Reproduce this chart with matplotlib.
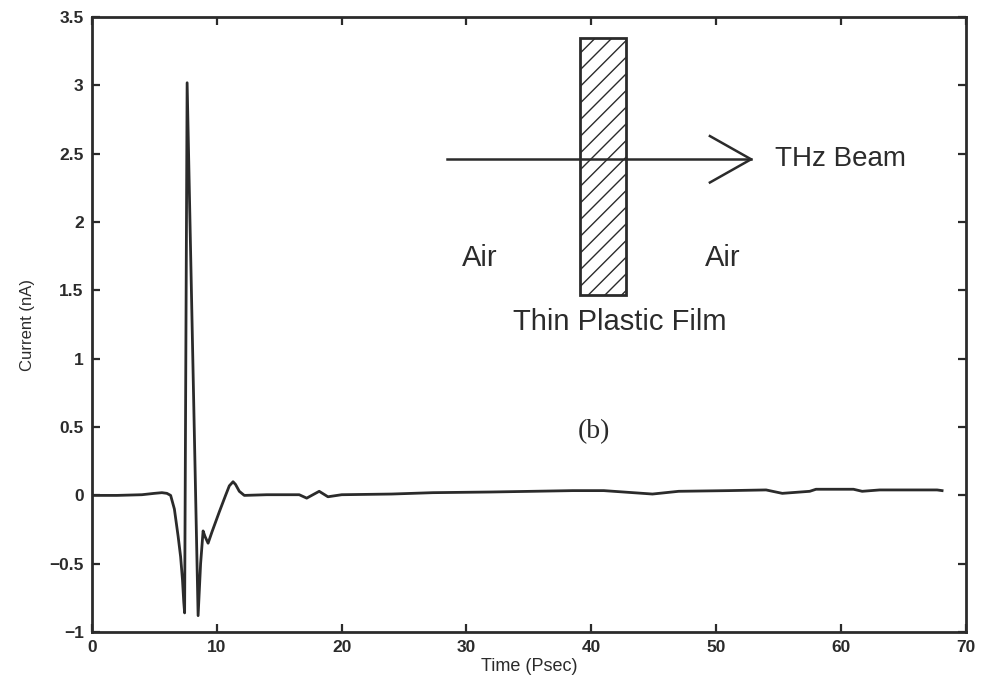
import matplotlib
matplotlib.use("Agg")
import matplotlib.pyplot as plt
from matplotlib.patches import Rectangle

# Measured THz photocurrent transient through a thin plastic film
time_ps = [0, 2, 4, 5, 5.6, 6.0, 6.3, 6.6, 6.9, 7.1, 7.25, 7.35, 7.42, 7.62,
           8.5, 8.7, 8.9, 9.05, 9.3, 9.6, 10.2, 10.7, 11.0, 11.3, 11.5, 11.8,
           12.2, 14, 16.6, 17.2, 18.2, 18.9, 20, 24, 27.3, 32, 35.3, 38.5, 41,
           44.9, 47, 51, 54, 55.3, 57.5, 58, 61, 61.7, 63.1, 65, 67.7, 68.1]
current_na = [0, 0, 0.005, 0.015, 0.02, 0.015, 0.0, -0.1, -0.3, -0.45, -0.62,
              -0.78, -0.86, 3.02, -0.88, -0.5, -0.26, -0.3, -0.35, -0.27, -0.12,
              0.0, 0.07, 0.1, 0.08, 0.03, 0.0, 0.005, 0.005, -0.02, 0.03, -0.01,
              0.005, 0.01, 0.02, 0.025, 0.03, 0.035, 0.035, 0.01, 0.03, 0.035,
              0.04, 0.015, 0.03, 0.045, 0.045, 0.03, 0.04, 0.04, 0.04, 0.035]

x_ticks = [0, 10, 20, 30, 40, 50, 60, 70]
y_ticks = [-1, -0.5, 0, 0.5, 1, 1.5, 2, 2.5, 3, 3.5]
y_tick_labels = ["\u22121", "\u22120.5", "0", "0.5", "1", "1.5", "2", "2.5", "3", "3.5"]

ink = "#2b2b2b"
plt.rcParams["font.family"] = ["Liberation Sans", "DejaVu Sans"]

fig = plt.figure(figsize=(9.84, 6.87), dpi=100)
ax = fig.add_axes([0.0935, 0.080, 0.888, 0.895])

ax.plot(time_ps, current_na, color=ink, linewidth=2.0, solid_joinstyle="round")

ax.set_xlim(0, 70)
ax.set_ylim(-1, 3.5)
ax.set_xticks(x_ticks)
ax.set_yticks(y_ticks)
ax.set_yticklabels(y_tick_labels)
ax.tick_params(direction="in", top=True, right=True, length=6, width=1.6,
               colors=ink, labelsize=12.5, pad=6)
for lbl in ax.get_xticklabels() + ax.get_yticklabels():
    lbl.set_fontweight("bold")
for sp in ax.spines.values():
    sp.set_linewidth(2.0)
    sp.set_color(ink)

ax.set_xlabel("Time (Psec)", fontsize=13, color=ink, labelpad=2)
ax.set_ylabel("Current (nA)", fontsize=12, color=ink, labelpad=10)

# Inset sketch: THz beam passing through a thin plastic film in air
film = Rectangle((39.1, 1.47), 3.7, 1.88, fill=False, hatch="//",
                 edgecolor=ink, linewidth=2.0)
ax.add_patch(film)
ax.plot([28.4, 52.8], [2.46, 2.46], color=ink, linewidth=1.8)
ax.plot([49.5, 52.8, 49.5], [2.63, 2.46, 2.29], color=ink, linewidth=1.8)

ax.text(54.7, 2.46, "THz Beam", fontsize=20, color=ink, va="center", ha="left")
ax.text(29.6, 1.74, "Air", fontsize=21, color=ink, va="center", ha="left")
ax.text(49.1, 1.74, "Air", fontsize=21, color=ink, va="center", ha="left")
ax.text(42.3, 1.27, "Thin Plastic Film", fontsize=21, color=ink,
        va="center", ha="center")
ax.text(40.2, 0.47, "(b)", fontsize=20, color=ink, va="center", ha="center",
        family=["Liberation Serif", "DejaVu Serif"])

fig.savefig("out.png", dpi=100, facecolor="white")
